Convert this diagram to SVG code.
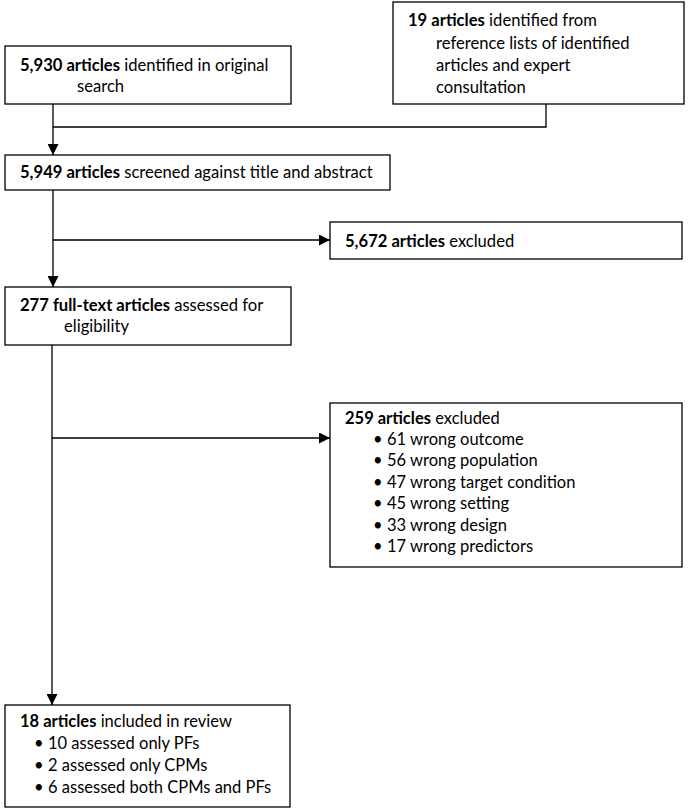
<svg xmlns="http://www.w3.org/2000/svg" width="688" height="808" viewBox="0 0 688 808">
<style>
.box{fill:#fff;stroke:#000;stroke-width:1.3}
.ln{fill:none;stroke:#000;stroke-width:1.3}
text{font-family:Lato,"Noto Sans","Liberation Sans",sans-serif;fill:#000}
.t1{font-size:16.6px}
.t2{font-size:16.5px}
.b{font-weight:bold}
</style>
<defs>
<marker id="ah" viewBox="0 0 10 10" refX="10" refY="5" markerWidth="11" markerHeight="11" markerUnits="userSpaceOnUse" orient="auto">
<path d="M0,0 L10,5 L0,10 Z" fill="#000"/>
</marker>
</defs>
<rect width="688" height="808" fill="#fff"/>
<g id="connectors">
<polyline class="ln" points="546,104 546,127 53,127"/>
<line class="ln" x1="53" y1="104" x2="53" y2="155" marker-end="url(#ah)"/>
<line class="ln" x1="53" y1="190" x2="53" y2="287" marker-end="url(#ah)"/>
<line class="ln" x1="53" y1="240" x2="330" y2="240" marker-end="url(#ah)"/>
<line class="ln" x1="52" y1="345" x2="52" y2="705" marker-end="url(#ah)"/>
<line class="ln" x1="52" y1="438" x2="330" y2="438" marker-end="url(#ah)"/>
</g>
<g id="n1">
<rect class="box" x="5" y="46" width="286" height="58"/>
<text class="t1" x="20" y="71"><tspan class="b">5,930 articles</tspan> identified in original</text>
<text class="t1" x="77" y="92">search</text>
</g>
<g id="n2">
<rect class="box" x="393" y="2" width="291" height="102"/>
<text class="t1" x="408" y="26"><tspan class="b">19 articles</tspan> identified from</text>
<text class="t1" x="436" y="49">reference lists of identified</text>
<text class="t1" x="436" y="71">articles and expert</text>
<text class="t1" x="436" y="93">consultation</text>
</g>
<g id="n3">
<rect class="box" x="5" y="155" width="385" height="35"/>
<text class="t1" x="20" y="178"><tspan class="b">5,949 articles</tspan> screened against title and abstract</text>
</g>
<g id="n4">
<rect class="box" x="330" y="222" width="352" height="37"/>
<text class="t1" x="345" y="247"><tspan class="b">5,672 articles</tspan> excluded</text>
</g>
<g id="n5">
<rect class="box" x="5" y="287" width="286" height="58"/>
<text class="t1" x="20" y="311"><tspan class="b">277 full-text articles</tspan> assessed for</text>
<text class="t1" x="64" y="332">eligibility</text>
</g>
<g id="n6">
<rect class="box" x="330" y="403" width="352" height="164"/>
<text class="t2" x="345" y="424"><tspan class="b">259 articles</tspan> excluded</text>
<g class="t2">
<text x="373" y="445">•</text><text x="387" y="445">61 wrong outcome</text>
<text x="373" y="466">•</text><text x="387" y="466">56 wrong population</text>
<text x="373" y="488">•</text><text x="387" y="488">47 wrong target condition</text>
<text x="373" y="509">•</text><text x="387" y="509">45 wrong setting</text>
<text x="373" y="531">•</text><text x="387" y="531">33 wrong design</text>
<text x="373" y="552">•</text><text x="387" y="552">17 wrong predictors</text>
</g>
</g>
<g id="n7">
<rect class="box" x="5" y="705" width="285" height="102"/>
<text class="t2" x="20" y="727"><tspan class="b">18 articles</tspan> included in review</text>
<g class="t2">
<text x="34" y="749">•</text><text x="48" y="749">10 assessed only PFs</text>
<text x="34" y="771">•</text><text x="48" y="771">2 assessed only CPMs</text>
<text x="34" y="793">•</text><text x="48" y="793">6 assessed both CPMs and PFs</text>
</g>
</g>
</svg>
